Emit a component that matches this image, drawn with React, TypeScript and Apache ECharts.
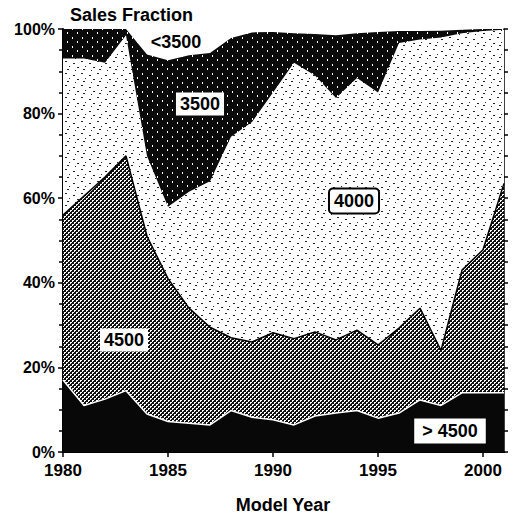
import React, { useEffect, useRef } from 'react';
import * as echarts from 'echarts';

const years = [1980, 1981, 1982, 1983, 1984, 1985, 1986, 1987, 1988, 1989, 1990, 1991, 1992, 1993, 1994, 1995, 1996, 1997, 1998, 1999, 2000, 2001];
const over4500 = [17, 11, 12.5, 14.5, 9, 7.2, 6.8, 6.4, 9.8, 8.2, 7.6, 6.4, 8.5, 9.2, 9.8, 8, 9.2, 12.3, 11, 14, 14, 14];
const class4500 = [39, 49.5, 52.5, 55.5, 42, 33.8, 27.2, 23.1, 17.2, 17.8, 20.6, 20.4, 19.9, 17.3, 19, 17.3, 20.1, 21.7, 13, 29, 33.8, 49.5];
const class4000 = [37, 32.5, 27, 28.5, 19, 17, 27.5, 34.5, 47.5, 52, 56.8, 65.2, 60.6, 57.2, 59.6, 59.7, 67.4, 63.5, 74, 56, 51.7, 36.3];
const class3500 = [7, 7, 8, 1.5, 24, 34.6, 32.3, 30.3, 23.4, 21.2, 14.3, 7, 9.8, 14.8, 10.6, 14.3, 2.8, 2, 1.6, 0.8, 0.5, 0.2];
const under3500 = [0, 0, 0, 0, 6, 7.4, 6.2, 5.7, 2.1, 0.8, 0.7, 1, 1.2, 1.5, 1, 0.7, 0.5, 0.5, 0.4, 0.2, 0, 0];
const yearTicks = [1980, 1985, 1990, 1995, 2000];

const FONT = 'Liberation Sans, Arial, sans-serif';

function tile(w: number, h: number, bg: string, fg: string, dots: number[][]) {
  const c = document.createElement('canvas');
  c.width = w;
  c.height = h;
  const ctx = c.getContext('2d')!;
  ctx.fillStyle = bg;
  ctx.fillRect(0, 0, w, h);
  ctx.fillStyle = fg;
  dots.forEach(([x, y, dw, dh]) => ctx.fillRect(x, y, dw, dh));
  return { image: c, repeat: 'repeat' };
}

export default function App() {
  const ref = useRef<HTMLDivElement>(null);
  useEffect(() => {
    if (!ref.current) return;
    const chart = echarts.init(ref.current, null, { renderer: 'svg' });

    const hatch = tile(4, 4, '#111', '#fff', [[0, 0, 1, 1], [1, 0, 1, 1], [0, 1, 1, 1], [2, 2, 1, 1], [3, 2, 1, 1], [2, 3, 1, 1]]);
    const stipple = tile(16, 12, '#fff', '#222', [[1, 1, 2, 1], [9, 3, 2, 1], [5, 6, 1, 1], [13, 7, 2, 1], [3, 9, 2, 1], [11, 10, 1, 1]]);
    const darkDots = tile(10, 9, '#0a0a0a', '#fff', [[2, 1, 1, 2], [7, 5, 1, 2]]);

    // bottom-to-top order of classes; stacked tops computed from the class shares
    const classes = [
      { name: 'gt4500', vals: over4500, fill: '#080808' as any, base: '#080808', line: { color: '#fff', width: 1.5 } },
      { name: 'c4500', vals: class4500, fill: hatch, base: '#5c5c5c', line: { color: '#000', width: 1.5 } },
      { name: 'c4000', vals: class4000, fill: stipple, base: '#ebebeb', line: { width: 0 } },
      { name: 'c3500', vals: class3500, fill: darkDots, base: '#151515', line: { width: 0 } },
      { name: 'lt3500', vals: under3500, fill: '#ffffff', base: '#ffffff', line: { width: 0 } },
    ];
    const running = years.map(() => 0);
    const series = classes.map((c, k) => {
      const tops = years.map((y, i) => {
        running[i] += c.vals[i];
        return [y, Math.round(running[i] * 10) / 10];
      });
      return {
        name: c.name,
        type: 'line',
        data: tops,
        showSymbol: false,
        symbol: 'none',
        z: 10 - k,
        lineStyle: c.line,
        itemStyle: { color: c.base },
        areaStyle: { color: c.fill, opacity: 1, origin: 'start' },
      };
    });

    const boxStyle = (text: string, border: boolean) => ({
      text,
      fill: '#000',
      font: `bold 18px ${FONT}`,
      align: 'center',
      verticalAlign: 'middle',
      backgroundColor: '#fff',
      padding: [3, 4, 2, 4],
      borderColor: border ? '#000' : undefined,
      borderWidth: border ? 2 : 0,
      borderRadius: border ? 3 : 0,
    });

    chart.setOption({
      animation: false,
      backgroundColor: '#fff',
      grid: { left: 63, right: 10, top: 29, bottom: 68 },
      xAxis: [
        {
          type: 'value',
          min: 1980,
          max: 2001,
          interval: 5,
          axisLine: { show: true, lineStyle: { color: '#000', width: 2 } },
          axisTick: { show: true, length: 5, lineStyle: { color: '#000', width: 1.5 }, customValues: yearTicks },
          axisLabel: { color: '#000', fontSize: 17, fontWeight: 'bold', fontFamily: FONT, margin: 10, customValues: yearTicks, formatter: (v: number) => String(v) },
          splitLine: { show: false },
        },
        {
          type: 'value',
          position: 'top',
          min: 1980,
          max: 2001,
          axisLine: { show: true, lineStyle: { color: '#000', width: 1.5 } },
          axisTick: { show: false },
          axisLabel: { show: false },
          splitLine: { show: false },
        },
      ],
      yAxis: [
        {
          type: 'value',
          min: 0,
          max: 100,
          interval: 20,
          axisLine: { show: true, lineStyle: { color: '#000', width: 2 } },
          axisTick: { show: true, length: 5, lineStyle: { color: '#000', width: 1.5 } },
          minorTick: { show: true, splitNumber: 4, length: 4, lineStyle: { color: '#000', width: 1.5 } },
          axisLabel: { color: '#000', fontSize: 16, fontWeight: 'bold', fontFamily: FONT, margin: 8, formatter: '{value}%' },
          splitLine: { show: false },
          minorSplitLine: { show: false },
        },
        {
          type: 'value',
          position: 'right',
          min: 0,
          max: 100,
          interval: 5,
          axisLine: { show: true, lineStyle: { color: '#000', width: 1.5 } },
          axisTick: { show: true, length: 4, lineStyle: { color: '#000', width: 1.5 } },
          axisLabel: { show: false },
          splitLine: { show: false },
        },
      ],
      series,
      graphic: [
        { type: 'text', left: 70, top: 6, z: 100, style: { text: 'Sales Fraction', fill: '#000', font: `bold 18px ${FONT}` } },
        { type: 'text', x: 283, y: 505, z: 100, style: { text: 'Model Year', fill: '#000', font: `bold 18px ${FONT}`, align: 'center', verticalAlign: 'middle' } },
        { type: 'text', x: 176, y: 42, z: 100, style: { text: '<3500', fill: '#000', font: `bold 18px ${FONT}`, align: 'center', verticalAlign: 'middle' } },
        { type: 'text', x: 200, y: 104, z: 100, style: boxStyle('3500', false) },
        { type: 'text', x: 354, y: 201, z: 100, style: boxStyle('4000', true) },
        { type: 'text', x: 124, y: 340, z: 100, style: boxStyle('4500', false) },
        { type: 'text', x: 450, y: 431, z: 100, style: { ...boxStyle('> 4500', false), padding: [4, 8, 3, 8] } },
      ],
    });

    return () => chart.dispose();
  }, []);

  return <div ref={ref} style={{ position: 'fixed', left: 0, top: 0, width: 514, height: 520 }} />;
}
